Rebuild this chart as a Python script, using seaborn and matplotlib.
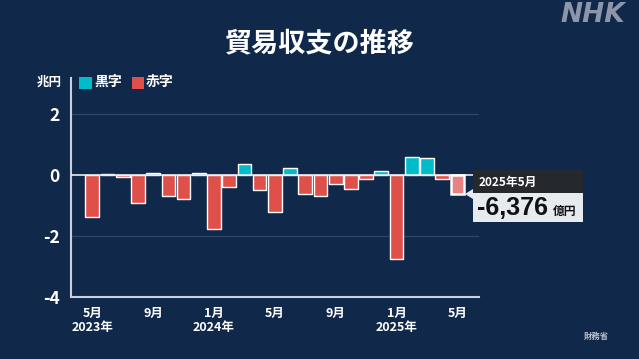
import matplotlib
matplotlib.use("Agg")
import matplotlib.pyplot as plt
from matplotlib.colors import to_rgba
from matplotlib.patches import Rectangle, Polygon
import numpy as np
import pandas as pd
import seaborn as sns

# 貿易収支（兆円）2023年5月〜2025年5月
months = ["2023-05", "2023-06", "2023-07", "2023-08", "2023-09", "2023-10", "2023-11",
          "2023-12", "2024-01", "2024-02", "2024-03", "2024-04", "2024-05", "2024-06",
          "2024-07", "2024-08", "2024-09", "2024-10", "2024-11", "2024-12", "2025-01",
          "2025-02", "2025-03", "2025-04", "2025-05"]
balance = [-1.37, 0.04, -0.08, -0.93, 0.06, -0.68, -0.79, 0.06, -1.77, -0.40, 0.36,
           -0.48, -1.22, 0.22, -0.62, -0.70, -0.29, -0.46, -0.12, 0.13, -2.75,
           0.59, 0.56, -0.12, -0.6376]
tick_pos = [0, 4, 8, 12, 16, 20, 24]
tick_labels = ["5月\n2023年", "9月", "1月\n2024年", "5月", "9月", "1月\n2025年", "5月"]
y_ticks = [2, 0, -2, -4]

BG = "#10284a"
CYAN = "#00bcc9"
RED = "#e0504b"
LATEST = "#e98383"
W, H = 639, 359

df = pd.DataFrame({"month": months, "value": balance})
df["kind"] = ["黒字" if v >= 0 else "赤字" for v in df["value"]]
df.loc[df.index[-1], "kind"] = "最新"

sns.set_theme(style="dark")
plt.rcParams["font.family"] = ["Noto Sans CJK JP", "DejaVu Sans"]

fig = plt.figure(figsize=(W / 100, H / 100), dpi=100, facecolor=BG)
ax = fig.add_axes([70.7 / W, 1 - 297 / H, (479 - 70.7) / W, (297 - 78) / H])
ax.set_facecolor(BG)


def px(x, y):
    return x / W, 1 - y / H


ax.axhline(2, color="#2f4668", lw=0.9, zorder=0)
ax.axhline(-2, color="#2f4668", lw=0.9, zorder=0)

sns.barplot(data=df, x="month", y="value", hue="kind",
            palette={"黒字": CYAN, "赤字": RED, "最新": LATEST},
            dodge=False, width=0.9, legend=False, saturation=1, ax=ax, zorder=2)

ax.axhline(0, color="#e8ecf2", lw=1.2, zorder=3)

# 最新の棒を白枠で強調
for p in ax.patches:
    if np.allclose(p.get_facecolor(), to_rgba(LATEST), atol=0.02) and abs(p.get_height()) > 0:
        p.set_edgecolor("white")
        p.set_linewidth(1.8)
        p.set_zorder(4)

ax.set_xlim(-1.42, 25.42)
ax.set_ylim(-4, 3.18)
ax.set_yticks(y_ticks)
ax.set_yticklabels([str(v) for v in y_ticks], color="white", fontsize=12.5, fontweight="bold")
ax.set_xticks(tick_pos)
ax.set_xticklabels(tick_labels, color="white", fontsize=9, fontweight="bold", linespacing=1.15)
ax.tick_params(axis="x", length=4, width=1.2, color="#c8d0dc", pad=3)
ax.tick_params(axis="y", length=0, pad=8)
ax.set_xlabel("")
ax.set_ylabel("")
ax.grid(False)
for side in ["top", "right"]:
    ax.spines[side].set_visible(False)
for side in ["left", "bottom"]:
    ax.spines[side].set_visible(True)
    ax.spines[side].set_color("#c8d0dc")
    ax.spines[side].set_linewidth(1.5)

# タイトル
fig.text(*px(320, 43), "貿易収支の推移", color="white", fontsize=19.5, fontweight="bold",
         ha="center", va="center")
fig.text(*px(593, 15), "NHK", color="#8c96a8", fontsize=19, fontweight="bold",
         style="italic", ha="center", va="center", family="DejaVu Sans")
fig.text(*px(596, 336), "財務省", color="#b8c0cc", fontsize=6, fontweight="bold",
         ha="center", va="center")

# 凡例
fig.text(*px(62, 82), "兆円", color="white", fontsize=9, fontweight="bold", ha="right", va="center")
fig.add_artist(Rectangle(px(79, 89), 13 / W, 12 / H, transform=fig.transFigure,
                         facecolor=CYAN, edgecolor="none"))
fig.text(*px(94, 82), "黒字", color="white", fontsize=10, fontweight="bold", ha="left", va="center")
fig.add_artist(Rectangle(px(132, 89), 12 / W, 12 / H, transform=fig.transFigure,
                         facecolor=RED, edgecolor="none"))
fig.text(*px(146, 82), "赤字", color="white", fontsize=10, fontweight="bold", ha="left", va="center")

# 最新値の吹き出し
fig.add_artist(Rectangle(px(473, 193), 110 / W, 23 / H, transform=fig.transFigure,
                         facecolor="#25292e", edgecolor="none"))
fig.add_artist(Rectangle(px(473, 222), 110 / W, 29 / H, transform=fig.transFigure,
                         facecolor="#e6ebf0", edgecolor="none"))
fig.add_artist(Polygon([px(473, 189), px(473, 199), px(465, 194)], closed=True,
                       transform=fig.transFigure, facecolor="#e6ebf0", edgecolor="none"))
fig.text(*px(479, 182), "2025年5月", color="white", fontsize=8.5, fontweight="bold",
         ha="left", va="center")
fig.text(*px(477, 208), "-6,376", color="#111111", fontsize=18, fontweight="bold",
         ha="left", va="center", family="Liberation Sans")
fig.text(*px(553, 212), "億円", color="#111111", fontsize=8.5, fontweight="bold",
         ha="left", va="center")

fig.savefig("out.png", dpi=100, facecolor=BG)
